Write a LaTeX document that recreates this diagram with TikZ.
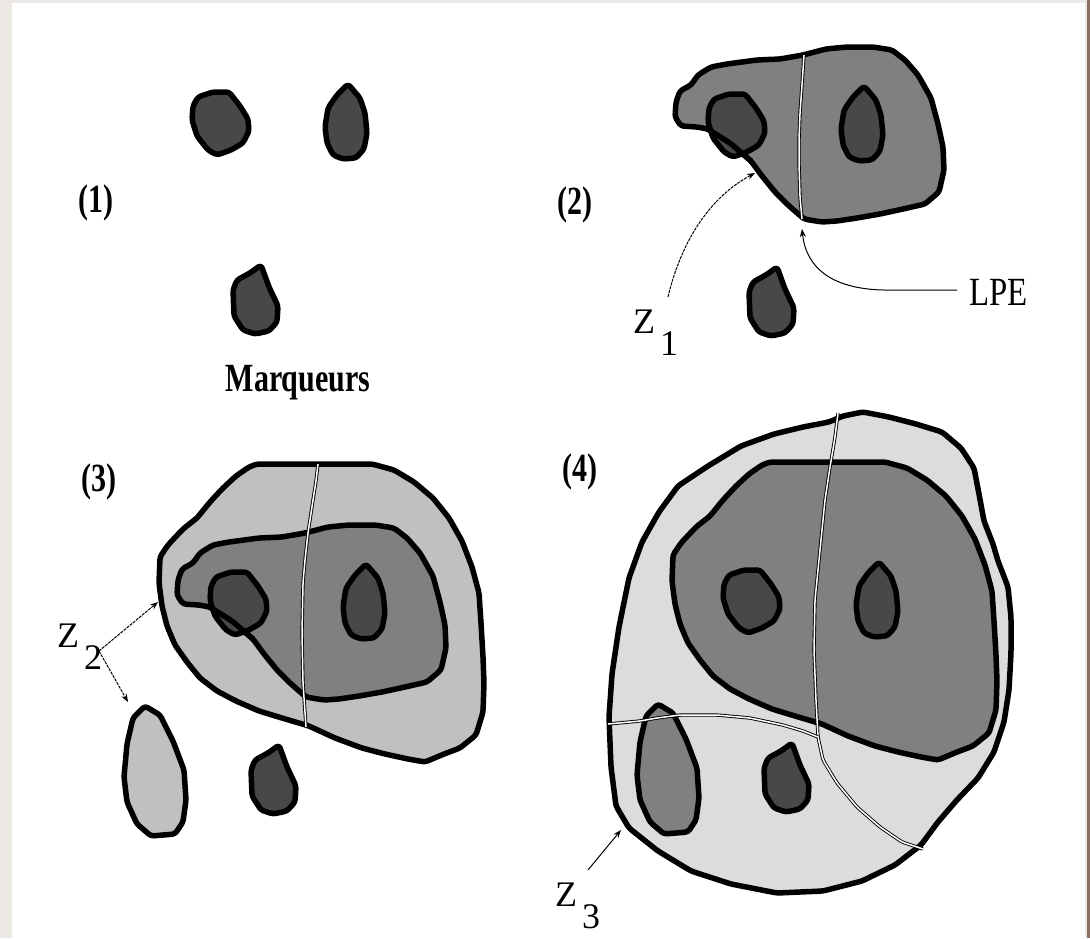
\documentclass[tikz,border=0pt]{standalone}
\usepackage{fontspec}
\setmainfont{Liberation Serif}
\usetikzlibrary{arrows.meta}
\definecolor{MarkGray}{HTML}{484848}
\definecolor{ZoneMid}{HTML}{808080}
\definecolor{ZoneLight}{HTML}{C0C0C0}
\definecolor{ZonePale}{HTML}{DCDCDC}
\definecolor{FrameGray}{HTML}{ECE8E4}
\definecolor{FrameBrown}{HTML}{8C7062}

\newcommand{\roundmark}{(198,97) -- (213,92) -- (229,92) -- (240,106) -- (248,119) -- (249,131) -- (243,143) -- (231,150) -- (217,155) -- (208,150) -- (197,136) -- (192,120) -- (193,106) -- cycle}
\newcommand{\dropmark}{(348,84) -- (360,98) -- (365,113) -- (367,133) -- (364,149) -- (356,158) -- (343,159) -- (333,155) -- (327,143) -- (325,127) -- (328,108) -- (337,95) -- cycle}
\newcommand{\lowmark}{(261,265) -- (269,287) -- (278,306) -- (277,322) -- (269,331) -- (255,334) -- (243,330) -- (234,316) -- (233,290) -- (237,280) -- (250,273) -- cycle}
\newcommand{\zoneone}{(676,102) -- (680,91) -- (691,85) -- (698,75) -- (711,67) -- (727,64) -- (757,60) -- (780,59) -- (803,55) -- (826,49) -- (847,47) -- (873,47) -- (892,50) -- (905,60) -- (918,75) -- (931,98) -- (938,124) -- (943,147) -- (944,170) -- (939,192) -- (925,204) -- (903,209) -- (880,214) -- (857,218) -- (837,221) -- (822,222) -- (804,219) -- (788,205) -- (775,192) -- (762,176) -- (751,161) -- (730,143) -- (708,129) -- (697,127) -- (681,126) -- (675,117) -- cycle}
\newcommand{\chordone}{(706,128) -- (730,143) -- (751,161)}
\newcommand{\zonetwo}{(257,464) -- (372,464) -- (394,470) -- (414,482) -- (433,498) -- (449,518) -- (462,541) -- (472,567) -- (479,593) -- (481,623) -- (483,657) -- (484,683) -- (483,712) -- (476,735) -- (460,748) -- (444,754) -- (425,762) -- (408,759) -- (385,754) -- (362,748) -- (335,738) -- (309,726) -- (282,718) -- (259,711) -- (236,701) -- (217,691) -- (200,678) -- (187,662) -- (175,645) -- (167,626) -- (162,606) -- (159,583) -- (160,557) -- (168,545) -- (183,529) -- (197,518) -- (210,502) -- (223,488) -- (236,476) -- (249,467) -- cycle}
\newcommand{\longblob}{(145,706) -- (160,715) -- (173,741) -- (184,770) -- (186,800) -- (183,822) -- (175,834) -- (151,836) -- (137,824) -- (127,802) -- (124,777) -- (127,744) -- (133,718) -- cycle}
\newcommand{\zonethree}{(829,422) -- (843,416) -- (863,412) -- (889,417) -- (916,424) -- (942,432) -- (961,448) -- (974,468) -- (979,494) -- (984,521) -- (993,544) -- (998,561) -- (1008,587) -- (1011,617) -- (1011,653) -- (1009,690) -- (1004,722) -- (994,752) -- (978,778) -- (956,801) -- (938,822) -- (921,845) -- (895,865) -- (862,881) -- (823,891) -- (777,893) -- (731,884) -- (691,871) -- (658,851) -- (629,828) -- (616,806) -- (611,767) -- (609,717) -- (612,674) -- (619,627) -- (629,578) -- (642,542) -- (659,512) -- (678,486) -- (708,466) -- (741,446) -- (774,434) -- (803,427) -- cycle}
\newcommand{\zname}[1]{Z\hspace{5pt}\raisebox{-22pt}{#1}}

\begin{document}
\begin{tikzpicture}[x=1pt,y=-1pt,
  blob/.style={draw=black,line width=5.5pt,line join=round,rounded corners=3pt},
  lpe/.style={draw=black,line width=0.9pt,double=white,double distance=1.5pt,rounded corners=3pt},
  pointer/.style={line width=1pt,-{Stealth[length=8pt,width=6pt]}},
  panellab/.style={font=\fontsize{40}{44}\selectfont\bfseries,inner sep=0pt},
  zlab/.style={font=\fontsize{36}{40}\selectfont,inner sep=0pt,anchor=base west}]
\fill[FrameGray] (0,0) rectangle (1090,938);
\fill[white] (12,3) rectangle (1085,938);
\fill[FrameBrown] (1087.3,0) rectangle (1090,938);

\draw[blob,fill=MarkGray] \roundmark;
\draw[blob,fill=MarkGray] \dropmark;
\draw[blob,fill=MarkGray] \lowmark;
\node[panellab] (p1) at (96,203) {\scalebox{0.75}[1]{(1)}};
\node[panellab,anchor=base] (mq) at (298,391) {\scalebox{0.75}[1]{Marqueurs}};

\draw[blob,fill=ZoneMid] \zoneone;
\begin{scope}[shift={(516,2)}]
\draw[blob,fill=MarkGray] \roundmark;
\draw[blob,fill=MarkGray] \dropmark;
\draw[blob,fill=MarkGray] \lowmark;
\end{scope}
\draw[blob] \chordone;
\draw[lpe] (804,55) -- (802,85) -- (800,113) -- (799,140) -- (799,163) -- (800,197) -- (802,219);
\node[panellab] (p2) at (575,205) {\scalebox{0.75}[1]{(2)}};
\node[zlab] (z1) at (633,333) {\zname{1}};
\node[zlab,font=\fontsize{40}{44}\selectfont] (lpelab) at (969,305) {\scalebox{0.82}[1]{LPE}};
\coordinate (z1tail) at (668,297);
\coordinate (z1tip) at (755,173);
\coordinate (lpestart) at (957,290);
\coordinate (lpebend) at (884,290);
\coordinate (lpetip) at (802,229);
\draw[pointer,dash pattern=on 3pt off 1pt] (z1tail) .. controls (682,238) and (712,196) .. (z1tip);
\draw[pointer] (lpestart) -- (lpebend) .. controls (832,289) and (806,268) .. (lpetip);

\draw[blob,fill=ZoneLight] \zonetwo;
\begin{scope}[shift={(-498,478)}]
\draw[blob,fill=ZoneMid] \zoneone;
\end{scope}
\begin{scope}[shift={(18,480)}]
\draw[blob,fill=MarkGray] \roundmark;
\draw[blob,fill=MarkGray] \dropmark;
\draw[blob,fill=MarkGray] \lowmark;
\end{scope}
\begin{scope}[shift={(-498,478)}]
\draw[blob] \chordone;
\end{scope}
\draw[blob,fill=ZoneLight] \longblob;
\draw[lpe] (318,464) -- (316,481) -- (313,500) -- (308,533) -- (305,560) -- (303,583) -- (302,633) -- (303,683) -- (306,727);
\node[panellab] (p3) at (99,482) {\scalebox{0.75}[1]{(3)}};
\node[zlab] (z2) at (57,647) {\zname{2}};
\coordinate (z2fork) at (99,651);
\coordinate (z2up) at (158,602);
\coordinate (z2down) at (128,702);
\draw[pointer,dash pattern=on 3pt off 1pt] (z2fork) -- (z2up);
\draw[pointer,dash pattern=on 3pt off 1pt] (z2fork) -- (z2down);

\draw[blob,fill=ZonePale] \zonethree;
\begin{scope}[shift={(513,-2)}]
\draw[blob,fill=ZoneMid] \zonetwo;
\draw[blob,fill=ZoneMid] \longblob;
\end{scope}
\begin{scope}[shift={(531,478)}]
\draw[blob,fill=MarkGray] \roundmark;
\draw[blob,fill=MarkGray] \dropmark;
\draw[blob,fill=MarkGray] \lowmark;
\end{scope}
\draw[lpe] (838,413) -- (835,437) -- (830,467) -- (825,500) -- (820,550) -- (815,600) -- (814,650) -- (816,700) -- (818,737) -- (823,760) -- (837,783) -- (857,807) -- (880,827) -- (902,842) -- (923,849);
\draw[lpe] (608,724) -- (640,721) -- (657,718) -- (680,715) -- (717,715) -- (750,718) -- (783,725) -- (803,731) -- (818,737);
\node[panellab] (p4) at (580,472) {\scalebox{0.75}[1]{(4)}};
\node[zlab] (z3) at (555,906) {\zname{3}};
\coordinate (z3tail) at (588,870);
\coordinate (z3tip) at (621,830);
\draw[pointer] (z3tail) -- (z3tip);
\end{tikzpicture}
\end{document}
